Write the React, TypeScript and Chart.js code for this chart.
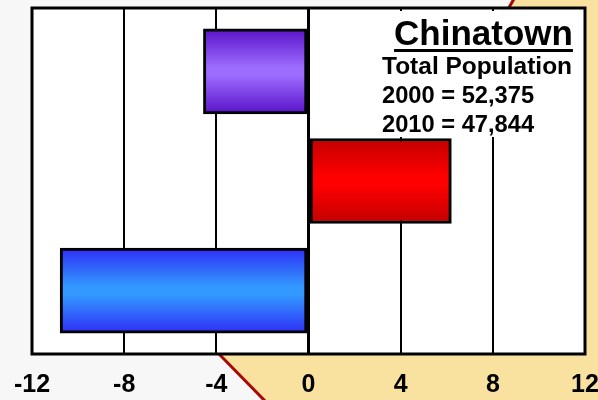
import React, { useEffect, useRef } from 'react';
import { Chart, registerables } from 'chart.js';

Chart.register(...registerables);

const categories = ['Group 1', 'Group 2', 'Group 3'];
const changeValues = [-4.56, 6.2, -10.78];
const xTicks = [-12, -8, -4, 0, 4, 8, 12];
const barEdgeColors = ['#5a12c8', '#c20000', '#2e2ef6'];
const barMidColors = ['#9c6cff', '#ff0000', '#3399ff'];
const titleText = 'Chinatown';
const infoTitle = 'Total Population';
const infoLines = ['2000 = 52,375', '2010 = 47,844'];

const FONT = '"Liberation Sans", Arial, sans-serif';
const BAR_THICKNESS = 85;

const backgroundPlugin = {
  id: 'bgDecor',
  beforeDraw(chart: any) {
    const { ctx, width, height, chartArea } = chart;
    ctx.save();
    ctx.fillStyle = '#f7f7f7';
    ctx.fillRect(0, 0, width, height);
    // tan map region
    ctx.beginPath();
    ctx.moveTo(513, 0);
    ctx.lineTo(width, 0);
    ctx.lineTo(width, height);
    ctx.lineTo(264, height);
    ctx.lineTo(220, 355);
    ctx.lineTo(200, 335);
    ctx.lineTo(490, 40);
    ctx.closePath();
    ctx.fillStyle = '#f9e2a0';
    ctx.fill();
    ctx.strokeStyle = '#a80808';
    ctx.lineWidth = 3;
    ctx.beginPath();
    ctx.moveTo(514.5, -2);
    ctx.lineTo(490, 40);
    ctx.stroke();
    ctx.beginPath();
    ctx.moveTo(200, 335);
    ctx.lineTo(220, 355);
    ctx.lineTo(266, height + 2);
    ctx.stroke();
    // plot area
    ctx.fillStyle = '#ffffff';
    ctx.fillRect(chartArea.left, chartArea.top, chartArea.right - chartArea.left, chartArea.bottom - chartArea.top);
    ctx.restore();
  },
  afterDatasetsDraw(chart: any) {
    const { ctx, chartArea } = chart;
    const r = chartArea.right;
    const t = chartArea.top;
    ctx.save();
    // info box background
    ctx.fillStyle = '#ffffff';
    ctx.fillRect(r - 204, t + 3, 200, 126);
    ctx.fillStyle = '#000000';
    ctx.textBaseline = 'alphabetic';
    ctx.textAlign = 'center';
    ctx.font = `bold 35px ${FONT}`;
    const cx = r - 101.5;
    ctx.fillText(titleText, cx, t + 36.5);
    const tw = ctx.measureText(titleText).width;
    ctx.fillRect(cx - tw / 2, t + 41, tw, 3);
    ctx.textAlign = 'left';
    ctx.font = `bold 24.5px ${FONT}`;
    ctx.fillText(infoTitle, r - 203, t + 66);
    ctx.font = `bold 23.7px ${FONT}`;
    infoLines.forEach((line, i) => {
      ctx.fillText(line, r - 203, t + 95 + i * 28.5);
    });
    // frame
    ctx.strokeStyle = '#000000';
    ctx.lineWidth = 3;
    ctx.strokeRect(chartArea.left, chartArea.top, chartArea.right - chartArea.left, chartArea.bottom - chartArea.top);
    ctx.restore();
  },
};

function barGradient(context: any) {
  const i = context.dataIndex ?? 0;
  const chart = context.chart;
  const yScale = chart.scales && chart.scales.y;
  if (!yScale || context.type !== 'data' || !isFinite(yScale.getPixelForValue(i))) {
    return barMidColors[i];
  }
  const c = yScale.getPixelForValue(i);
  const g = chart.ctx.createLinearGradient(0, c - BAR_THICKNESS / 2, 0, c + BAR_THICKNESS / 2);
  g.addColorStop(0, barEdgeColors[i]);
  g.addColorStop(0.45, barMidColors[i]);
  g.addColorStop(0.55, barMidColors[i]);
  g.addColorStop(1, barEdgeColors[i]);
  return g;
}

export default function App() {
  const canvasRef = useRef<HTMLCanvasElement | null>(null);

  useEffect(() => {
    document.body.style.margin = '0';
    const canvas = canvasRef.current;
    if (!canvas) return;
    const chart = new Chart(canvas, {
      type: 'bar',
      data: {
        labels: categories,
        datasets: [
          {
            label: 'Change',
            data: changeValues.map((v, i) => ({ x: v, y: i })) as any,
            backgroundColor: barGradient as any,
            borderColor: '#000000',
            borderWidth: 3,
            borderSkipped: false,
            barThickness: BAR_THICKNESS,
          },
        ],
      },
      options: {
        indexAxis: 'y',
        animation: false,
        responsive: true,
        maintainAspectRatio: false,
        layout: { padding: { left: 32, right: 13, top: 8, bottom: 0 } },
        plugins: {
          legend: { display: false },
          tooltip: { enabled: false },
          title: { display: false },
        },
        scales: {
          x: {
            type: 'linear',
            min: -12,
            max: 12,
            afterBuildTicks: (s: any) => {
              s.ticks = xTicks.map((v) => ({ value: v }));
            },
            afterFit: (s: any) => {
              s.height = 46;
              s.paddingLeft = 0;
              s.paddingRight = 0;
            },
            grid: {
              color: '#000000',
              lineWidth: (ctx: any) => (ctx.tick && ctx.tick.value === 0 ? 3 : 2),
              drawTicks: false,
            },
            border: { display: false },
            ticks: {
              color: '#000000',
              padding: 16,
              font: { family: FONT, size: 25, weight: 'bold' },
              maxRotation: 0,
              autoSkip: false,
            },
          },
          y: {
            type: 'linear',
            display: false,
            offset: false,
            min: -0.577,
            max: 2.577,
            reverse: true,
          },
        },
      },
      plugins: [backgroundPlugin],
    });
    return () => chart.destroy();
  }, []);

  return (
    <div style={{ position: 'fixed', left: 0, top: 0, width: 598, height: 400 }}>
      <canvas ref={canvasRef} />
    </div>
  );
}
